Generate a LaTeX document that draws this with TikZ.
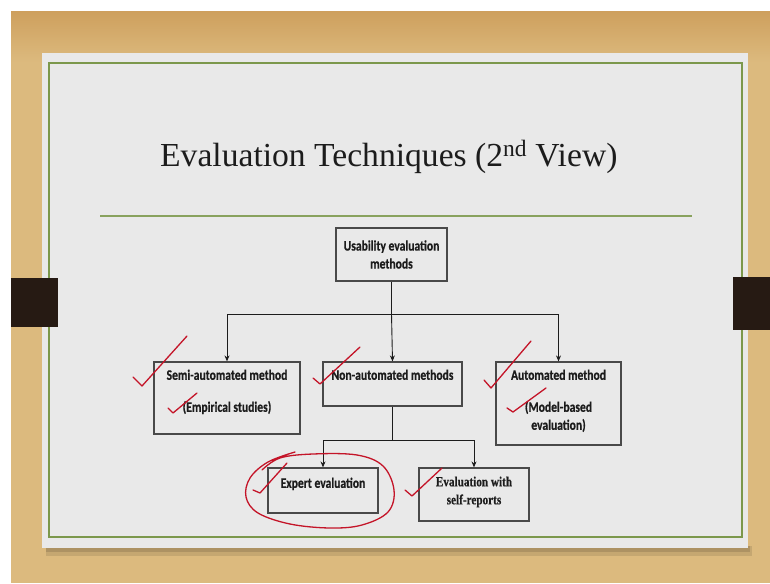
\documentclass[tikz,border=0pt]{standalone}
\usepackage{fontspec}
\usepackage{tikz}
\usetikzlibrary{positioning,arrows.meta}
\newfontfamily\titlefont{Liberation Serif}
\newfontfamily\boxfont[FakeStretch=0.8,FakeBold=0.6]{Carlito}
\newfontfamily\boxserif[FakeStretch=0.8,FakeBold=0.5]{Liberation Serif}
\definecolor{wood}{RGB}{220,186,126}
\definecolor{woodtop}{RGB}{206,160,94}
\definecolor{slide}{RGB}{233,233,233}
\definecolor{olive}{RGB}{124,152,76}
\definecolor{clipdark}{RGB}{38,26,19}
\definecolor{redpen}{RGB}{196,20,40}
\definecolor{ink}{RGB}{28,28,28}

\tikzset{
	box/.style={draw=ink!80, line width=1.2pt, fill=slide, inner sep=0pt},
	lbl/.style={inner sep=0pt, align=center, text=ink, font=\boxfont\bfseries\fontsize{14.5}{18}\selectfont},
	link/.style={draw=ink, line width=0.9pt},
	arr/.style={link, -{Stealth[length=6pt,width=5pt]}},
	redtick/.style={draw=redpen, line width=1.3pt, line cap=round, line join=round}
}

\begin{document}
\begin{tikzpicture}[x=1pt,y=-1pt]
	\useasboundingbox (0,0) rectangle (770,583);
	\fill[white] (0,0) rectangle (770,583);
	\fill[wood] (11,12) rectangle (770,583);
	\shade[top color=woodtop, bottom color=wood] (11,12) rectangle (770,62);
	\fill[black, opacity=0.10] (46,546) rectangle (752,556);
	\fill[black, opacity=0.12] (46,546) rectangle (750,552);
	\fill[slide] (42,53) rectangle (748,548);
	\draw[olive, line width=2pt] (49,63) rectangle (742,537);
	\fill[clipdark] (11,278) rectangle (58,327);
	\fill[clipdark] (733,277) rectangle (770,330);

	\node[anchor=base west, inner sep=0pt, text=ink, font=\titlefont\fontsize{33.6}{40}\selectfont] (title) at (160,166) {Evaluation Techniques (2\textsuperscript{nd} View)};
	\draw[olive!90!white, line width=2pt] (100,216) -- (692,216);

	\node[box, minimum width=111pt, minimum height=53pt] (usab) at (391.5,254.5) {};
	\node[box, minimum width=146pt, minimum height=72pt] (semi) at (227,398) {};
	\node[box, minimum width=139pt, minimum height=44pt] (nonauto) at (392.5,384) {};
	\node[box, minimum width=125pt, minimum height=83pt] (auto) at (558.5,403.5) {};
	\node[box, minimum width=110pt, minimum height=45pt] (expert) at (323,490.5) {};
	\node[box, minimum width=110pt, minimum height=53pt] (selfrep) at (474,494.5) {};

	\node[lbl] (usabtxt) at (usab.center) {Usability evaluation\\methods};
	\node[lbl, below=8pt of semi.north] (semitxt) {Semi-automated method\\[14pt](Empirical studies)};
	\node[lbl, below=8pt of nonauto.north] (nonautotxt) {Non-automated methods};
	\node[lbl, below=8pt of auto.north] (autotxt) {Automated method\\[14pt](Model-based\\evaluation)};
	\node[lbl, below=10pt of expert.north] (experttxt) {Expert evaluation};
	\node[lbl, below=9pt of selfrep.north, font=\boxserif\bfseries\fontsize{14}{18}\selectfont] (selftxt) {Evaluation with\\self-reports};

	\coordinate (rowtop) at (0,314);
	\coordinate (rowlow) at (0,440);
	\coordinate (splittop) at (usab.south |- rowtop);
	\coordinate (splitlow) at (nonauto.south |- rowlow);
	\draw[link] (usab.south) -- (splittop);
	\draw[arr] (splittop) -| (semi.north);
	\draw[arr] (splittop) -- (nonauto.north);
	\draw[arr] (splittop) -| (auto.north);
	\draw[link] (nonauto.south) -- (splitlow);
	\draw[arr] (splitlow) -| (expert.north);
	\draw[arr] (splitlow) -| (selfrep.north);

	\draw[redtick] (133,377) -- (142,386) -- (187,336);
	\draw[redtick] (168,408) -- (173,413) -- (197,393);
	\draw[redtick] (313,378) -- (320,384) -- (360,347);
	\draw[redtick] (484,380) -- (491,388) -- (531,341);
	\draw[redtick] (507,408) -- (513,412) -- (546,388);
	\draw[redtick] (253,490) -- (260,493) -- (287,463);
	\draw[redtick] (405,490) -- (412,496) -- (442,468);
	\draw[redtick] plot[smooth, tension=0.6] coordinates {(262,470) (280,458) (313,454) (357,455) (383,466) (394,490) (388,512) (362,525) (330,528) (290,524) (258,513) (246,497) (250,478) (268,462) (295,452)};
\end{tikzpicture}
\end{document}
